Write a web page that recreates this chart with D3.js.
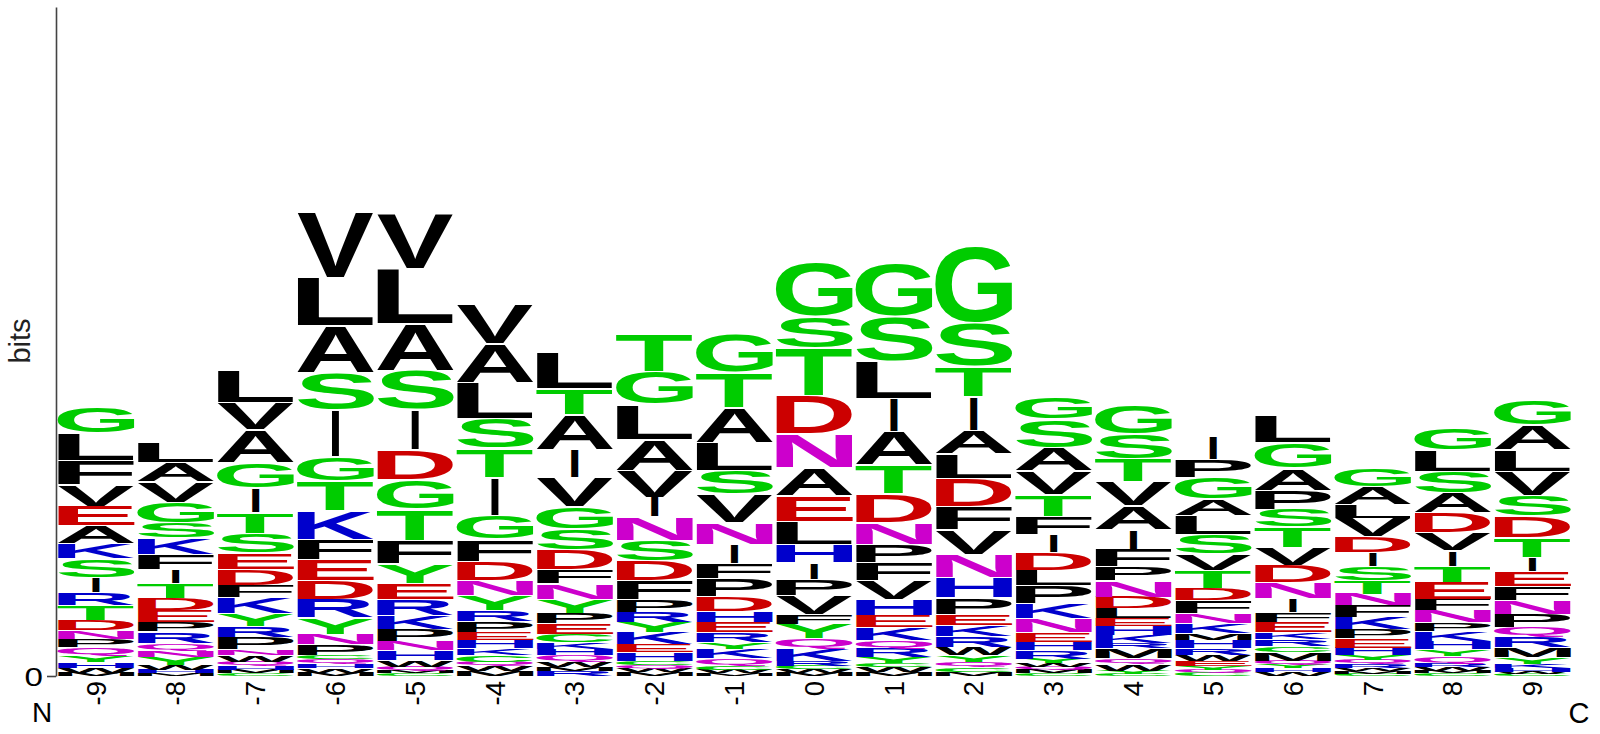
<!DOCTYPE html>
<html><head><meta charset="utf-8">
<script src="https://cdn.jsdelivr.net/npm/d3@7"></script>
<style>html,body{margin:0;padding:0;background:#fff}</style>
</head><body>
<svg id="chart" width="1600" height="734"></svg>
<script>
// Position labels (x categories)
const positions = ["-9","-8","-7","-6","-5","-4","-3","-2","-1","0","1","2","3","4","5","6","7","8","9"];
const yTickValues = [0];
const yLabel = "bits";
const leftEnd = "N", rightEnd = "C";

// Letter stacks per position, listed top to bottom: [residue, bits]
const pos_m9 = [["G",.168],["L",.176],["F",.157],["V",.140],["E",.127],["A",.116],["K",.097],["S",.120],["I",.099],["R",.082],["T",.095],["D",.069],["N",.056],["P",.054],["Q",.054],["Y",.039],["H",.037],["W",.032],["M",.022]];
const pos_m8 = [["L",.129],["A",.125],["V",.133],["G",.131],["S",.099],["K",.108],["F",.099],["I",.086],["T",.095],["D",.082],["E",.075],["P",.060],["R",.073],["Q",.049],["N",.047],["Y",.049],["W",.032],["H",.022],["M",.017]];
const pos_m7 = [["L",.211],["V",.176],["A",.209],["G",.166],["I",.157],["T",.135],["S",.125],["E",.108],["D",.105],["F",.080],["K",.103],["Y",.082],["R",.073],["P",.077],["N",.037],["W",.043],["Q",.028],["H",.026],["M",.022],["C",.017]];
const pos_m6 = [["V",.426],["L",.312],["A",.303],["S",.237],["I",.303],["G",.157],["T",.194],["K",.183],["F",.131],["E",.138],["D",.118],["R",.118],["Y",.108],["N",.069],["P",.069],["C",.028],["Q",.030],["H",.028],["W",.028],["M",.022]];
const pos_m5 = [["V",.359],["L",.355],["A",.301],["S",.254],["I",.262],["D",.194],["G",.189],["T",.202],["F",.151],["Y",.125],["E",.103],["R",.108],["K",.090],["P",.075],["N",.058],["H",.065],["W",.043],["Q",.028],["M",.015],["C",.017]];
const pos_m4 = [["V",.256],["A",.256],["L",.228],["S",.194],["T",.189],["I",.247],["G",.153],["F",.144],["D",.123],["N",.099],["Y",.095],["R",.069],["P",.071],["E",.054],["H",.049],["K",.047],["C",.043],["Q",.028],["W",.030],["M",.034]];
const pos_m3 = [["L",.234],["T",.172],["A",.224],["I",.181],["V",.187],["G",.146],["S",.135],["D",.127],["F",.092],["N",.099],["Y",.090],["P",.069],["E",.069],["C",.052],["K",.045],["H",.041],["Q",.041],["W",.032],["M",.026],["R",.034]];
const pos_m2 = [["T",.245],["G",.215],["L",.226],["A",.200],["V",.172],["I",.129],["N",.151],["S",.133],["D",.129],["F",.120],["P",.082],["R",.065],["Y",.069],["K",.075],["E",.052],["H",.054],["C",.028],["Q",.022],["W",.024],["M",.026]];
const pos_m1 = [["G",.245],["T",.228],["A",.224],["L",.181],["S",.151],["V",.183],["N",.144],["I",.125],["F",.097],["P",.114],["D",.095],["H",.071],["E",.067],["R",.062],["Y",.047],["K",.060],["Q",.049],["C",.026],["W",.022],["M",.017]];
const pos_0  = [["G",.353],["S",.204],["T",.310],["D",.245],["N",.219],["A",.178],["E",.166],["L",.151],["H",.118],["I",.108],["P",.108],["V",.118],["F",.065],["Y",.092],["Q",.069],["K",.077],["R",.032],["C",.022],["W",.022],["M",.022]];
const pos_p1 = [["G",.342],["S",.290],["L",.237],["I",.215],["A",.215],["T",.189],["D",.183],["N",.144],["P",.118],["F",.118],["V",.118],["H",.103],["E",.080],["K",.082],["Q",.054],["R",.058],["Y",.039],["C",.026],["W",.030],["M",.026]];
const pos_p2 = [["G",.492],["S",.280],["T",.194],["I",.221],["A",.151],["L",.161],["D",.183],["F",.151],["V",.155],["N",.151],["H",.129],["P",.108],["E",.071],["K",.071],["R",.069],["W",.054],["Y",.043],["Q",.037],["C",.028],["M",.028]];
const pos_p3 = [["G",.148],["S",.183],["A",.151],["V",.151],["T",.140],["F",.118],["I",.118],["D",.114],["L",.101],["P",.118],["K",.095],["N",.086],["E",.065],["H",.056],["R",.052],["Y",.030],["W",.022],["Q",.022],["M",.022],["C",.017]];
const pos_p4 = [["G",.189],["S",.163],["T",.148],["V",.153],["A",.155],["I",.125],["F",.116],["P",.086],["N",.108],["D",.075],["L",.065],["E",.049],["H",.058],["K",.054],["R",.032],["M",.065],["Q",.037],["W",.043],["Y",.022],["C",.013]];
const pos_p5 = [["I",.151],["P",.118],["G",.140],["A",.103],["L",.123],["S",.125],["V",.108],["T",.118],["D",.080],["F",.082],["N",.065],["K",.065],["M",.043],["H",.054],["R",.043],["W",.039],["E",.032],["Y",.026],["Q",.017],["C",.022]];
const pos_p6 = [["L",.172],["G",.166],["A",.146],["P",.123],["S",.114],["T",.133],["V",.114],["D",.110],["N",.105],["I",.090],["F",.062],["E",.067],["K",.045],["R",.047],["C",.037],["M",.054],["Q",.028],["Y",.022],["H",.022],["W",.028]];
const pos_p7 = [["G",.118],["A",.114],["L",.090],["V",.118],["D",.103],["I",.090],["S",.092],["T",.086],["N",.075],["F",.080],["K",.075],["P",.060],["E",.058],["H",.049],["Y",.032],["Q",.028],["R",.026],["W",.019],["M",.015],["C",.015]];
const pos_p8 = [["G",.148],["L",.140],["S",.140],["A",.129],["D",.127],["V",.116],["I",.101],["T",.103],["E",.110],["F",.077],["N",.075],["P",.054],["K",.065],["H",.054],["Y",.045],["Q",.047],["R",.022],["W",.028],["M",.015],["C",.017]];
const pos_p9 = [["G",.159],["A",.159],["L",.142],["V",.159],["S",.131],["D",.140],["T",.125],["I",.090],["E",.097],["F",.092],["N",.090],["P",.086],["Q",.065],["R",.065],["M",.060],["Y",.047],["K",.028],["H",.022],["W",.013],["C",.015]];

const stacks = [pos_m9,pos_m8,pos_m7,pos_m6,pos_m5,pos_m4,pos_m3,pos_m2,pos_m1,pos_0,pos_p1,pos_p2,pos_p3,pos_p4,pos_p5,pos_p6,pos_p7,pos_p8,pos_p9];

// Residue colour groups (chemistry scheme)
const polar = "GSTYC", basic = "KRH", acidic = "DE", amide = "NQ";
function colorOf(ch){
  if (polar.includes(ch)) return "#00cc00";
  if (basic.includes(ch)) return "#0000cc";
  if (acidic.includes(ch)) return "#cc0000";
  if (amide.includes(ch)) return "#cc00cc";
  return "#000000";
}

const svg = d3.select("#chart");
const x = d3.scaleBand().domain(positions).range([57.5, 1571]).paddingInner(0.035).paddingOuter(0);
const y = d3.scaleLinear().domain([0, 4.32]).range([676, 7]);

// glyph ink metrics
const FONT = "'Liberation Sans', Arial, Helvetica, sans-serif";
const ctx = document.createElement("canvas").getContext("2d");
ctx.font = "bold 100px " + FONT;
const metrics = {};
"ACDEFGHIKLMNPQRSTVWY".split("").forEach(ch => {
  const m = ctx.measureText(ch);
  metrics[ch] = {l: m.actualBoundingBoxLeft, r: m.actualBoundingBoxRight, a: m.actualBoundingBoxAscent, d: m.actualBoundingBoxDescent};
});

// build letter records
const letters = [];
positions.forEach((p, i) => {
  let cum = 0;
  stacks[i].slice().reverse().forEach(([ch, h]) => {
    letters.push({pos: p, ch, lo: cum, hi: cum + h});
    cum += h;
  });
});

const bw = x.bandwidth();
svg.append("g").attr("class", "logo")
  .selectAll("text").data(letters).join("text")
  .text(d => d.ch)
  .attr("font-family", FONT)
  .attr("font-weight", "bold")
  .attr("font-size", 100)
  .attr("fill", d => colorOf(d.ch))
  .attr("transform", d => {
    const m = metrics[d.ch];
    const inkW = m.l + m.r, inkH = m.a + m.d;
    const tw = d.ch === "I" ? bw * 0.1 : bw;
    const tx = x(d.pos) + (bw - tw) / 2;
    const bot = y(d.lo);
    let top = y(d.hi);
    const hpx = bot - top;
    top += Math.min(1.5, hpx * 0.06);   // small white gap between stacked letters
    const sx = tw / inkW, sy = Math.max(bot - top, 0.0001) / inkH;
    return `translate(${tx},${top}) scale(${sx},${sy}) translate(${m.l},${m.a})`;
  });

// y axis
const yAxis = svg.append("g").attr("transform", "translate(56,0)")
  .call(d3.axisLeft(y).tickValues(yTickValues).tickSize(9).tickSizeOuter(0).tickPadding(0).tickFormat(d3.format("d")));
yAxis.select(".domain").attr("stroke", "#444").attr("stroke-width", 1.6);
yAxis.selectAll(".tick line").attr("stroke", "#444").attr("stroke-width", 1.6);
yAxis.selectAll(".tick text")
  .attr("x", 0).attr("dy", null).attr("text-anchor", "end")
  .attr("transform", "translate(-13,0) scale(1.3,1) translate(0,9)")
  .attr("font-family", FONT).attr("font-size", 25.5).attr("fill", "#000");

svg.append("text").attr("transform", "translate(30,341) rotate(-90)")
  .attr("text-anchor", "middle").attr("font-family", FONT).attr("font-size", 29).attr("fill", "#222")
  .text(yLabel);

// x axis labels
const xAxis = svg.append("g").attr("transform", "translate(0,681)")
  .call(d3.axisBottom(x).tickSize(0).tickPadding(0));
xAxis.select(".domain").remove();
xAxis.selectAll(".tick text")
  .attr("transform", "rotate(-90)")
  .attr("text-anchor", "end").attr("x", 0).attr("y", 0).attr("dy", "0.35em")
  .attr("font-family", FONT).attr("font-size", 27.5).attr("fill", "#000");

svg.append("text").attr("x", 42).attr("y", 722).attr("text-anchor", "middle")
  .attr("font-family", FONT).attr("font-size", 28).attr("fill", "#000").text(leftEnd);
svg.append("text").attr("x", 1579).attr("y", 723).attr("text-anchor", "middle")
  .attr("font-family", FONT).attr("font-size", 29).attr("fill", "#000").text(rightEnd);
</script>
</body></html>
